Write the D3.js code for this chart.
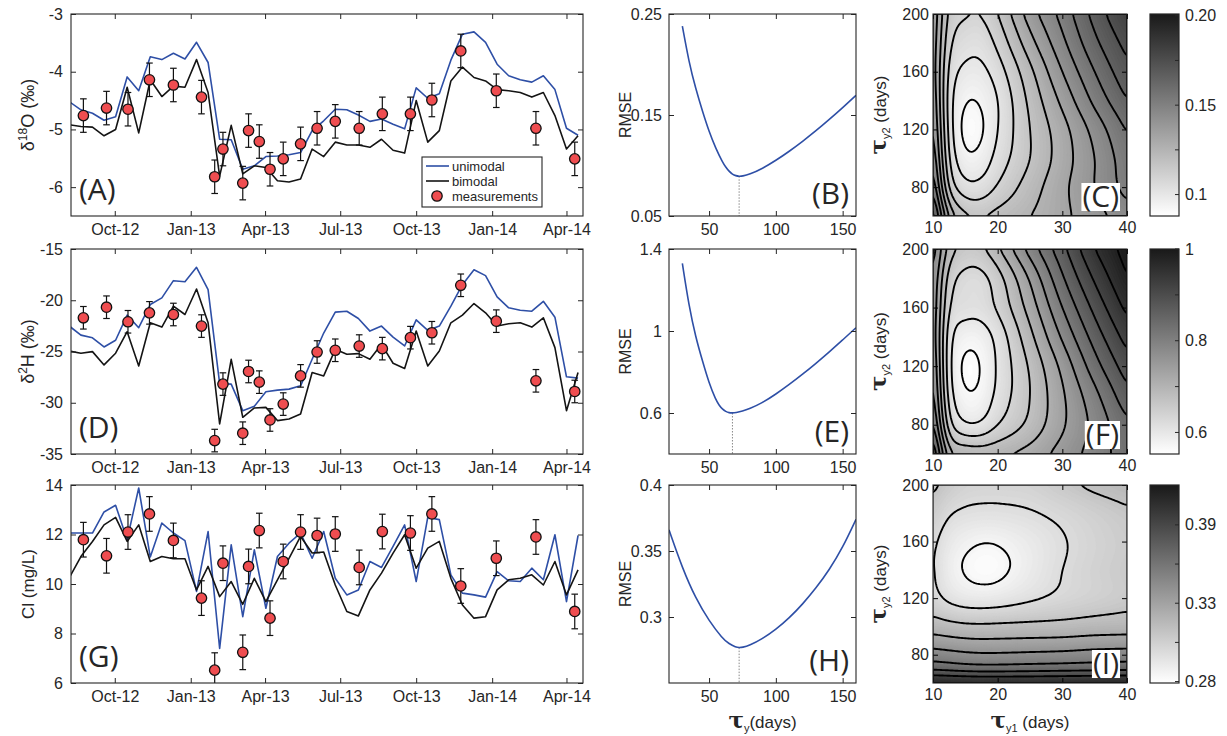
<!DOCTYPE html>
<html><head><meta charset="utf-8">
<script src="https://cdn.jsdelivr.net/npm/d3@7"></script>
<style>
body{margin:0;background:#fff}
svg{display:block}
text{font-family:"Liberation Sans",Arial,sans-serif;fill:#262626}
</style></head>
<body><svg id="c" width="1227" height="736"></svg>
<script>
// ---------------- DATA ----------------
const modelDates = ["2012-08-07","2012-08-21","2012-09-04","2012-09-18","2012-10-02","2012-10-16","2012-10-30","2012-11-13","2012-11-27","2012-12-11","2012-12-25","2013-01-08","2013-01-22","2013-02-05","2013-02-19","2013-03-05","2013-03-19","2013-04-02","2013-04-16","2013-04-30","2013-05-14","2013-05-28","2013-06-11","2013-06-25","2013-07-09","2013-07-23","2013-08-06","2013-08-20","2013-09-03","2013-09-17","2013-10-01","2013-10-15","2013-10-29","2013-11-12","2013-11-26","2013-12-10","2013-12-24","2014-01-07","2014-01-21","2014-02-04","2014-02-18","2014-03-04","2014-03-18","2014-04-01","2014-04-15"];
const o18Unimodal = [-4.52,-4.66,-4.72,-4.84,-4.78,-4.09,-4.33,-3.74,-3.79,-3.68,-3.78,-3.49,-3.84,-5.17,-5.18,-5.69,-5.63,-5.47,-5.46,-5.44,-5.40,-5.02,-4.85,-4.65,-4.66,-4.75,-4.86,-4.82,-4.91,-4.99,-4.28,-4.46,-4.38,-3.80,-3.35,-3.31,-3.49,-3.87,-4.07,-4.14,-4.18,-4.07,-4.31,-4.98,-5.10];
const o18Bimodal = [-4.92,-4.95,-4.96,-5.11,-5.00,-4.27,-5.06,-4.14,-4.43,-4.25,-4.27,-3.79,-4.36,-5.81,-4.93,-5.77,-5.63,-5.66,-5.89,-5.91,-5.86,-5.34,-5.47,-5.22,-5.27,-5.27,-5.31,-5.17,-5.36,-5.41,-4.50,-5.22,-5.02,-4.16,-3.92,-4.10,-4.16,-4.31,-4.33,-4.36,-4.44,-4.36,-4.76,-5.34,-5.11];
const h2Unimodal = [-22.52,-23.4,-23.66,-24.56,-23.9,-21.45,-22.68,-20.42,-19.77,-18.09,-18.2,-16.79,-18.96,-28.12,-28.18,-30.77,-30.35,-28.93,-28.77,-28.67,-28.35,-25.76,-23.2,-21.16,-21.07,-21.78,-23.01,-22.52,-23.59,-24.46,-21.91,-22.94,-22.52,-20.58,-18.48,-17.02,-17.6,-19.67,-20.74,-20.97,-21.07,-20.1,-21.65,-27.47,-27.6];
const h2Bimodal = [-24.95,-25.17,-25.01,-26.31,-25.17,-23.07,-26.41,-22.2,-22.62,-20.58,-21.39,-18.9,-22.2,-32.07,-25.76,-31.42,-30.51,-30.45,-31.74,-31.58,-31.1,-27.05,-27.38,-24.79,-25.27,-25.21,-25.76,-24.3,-26.15,-26.66,-23.01,-26.41,-24.95,-22.2,-21.45,-20.32,-21.22,-22.52,-22.29,-22.2,-22.62,-21.71,-24.62,-30.77,-27.05];
const clUnimodal = [12.06,12.06,12.06,12.91,13.18,11.79,13.88,11.09,12.46,12.06,11.75,9.70,12.12,7.40,11.58,8.68,11.38,9.02,11.11,11.65,12.06,11.04,12.12,10.23,9.56,9.76,10.91,10.67,11.52,12.39,10.10,12.69,12.60,10.37,9.63,9.56,9.47,10.50,10.13,10.10,10.64,10.17,11.99,9.29,11.96];
const clBimodal = [10.26,11.11,11.72,12.39,12.69,11.72,12.39,10.91,11.11,11.02,11.02,9.76,10.71,9.49,10.10,9.18,10.23,9.29,10.17,11.04,11.92,11.25,11.29,9.96,8.89,8.71,9.76,10.44,11.25,11.99,10.64,11.45,11.72,10.23,9.15,8.62,8.68,9.76,10.17,10.23,10.37,9.96,10.91,9.56,10.57];
const measDates = ["2012-08-24","2012-09-21","2012-10-17","2012-11-12","2012-12-11","2013-01-14","2013-01-30","2013-02-09","2013-03-05","2013-03-12","2013-03-25","2013-04-07","2013-04-23","2013-05-14","2013-06-03","2013-06-25","2013-07-24","2013-08-21","2013-09-24","2013-10-20","2013-11-24","2014-01-06","2014-02-23","2014-04-11"];
const o18Meas = [-4.76,-4.63,-4.65,-4.14,-4.23,-4.44,-5.82,-5.34,-5.93,-5.02,-5.21,-5.69,-5.51,-5.25,-4.98,-4.86,-4.98,-4.73,-4.73,-4.49,-3.64,-4.33,-4.98,-5.51];
const h2Meas = [-21.71,-20.68,-22.1,-21.23,-21.39,-22.52,-33.69,-28.18,-32.97,-26.95,-27.99,-31.68,-30.13,-27.38,-25.05,-24.88,-24.47,-24.72,-23.65,-23.17,-18.54,-22.04,-27.86,-28.9];
const clMeas = [11.79,11.14,12.1,12.83,11.76,9.43,6.52,10.84,7.24,10.71,12.16,8.62,10.91,12.1,11.96,12.02,10.67,12.12,12.06,12.83,9.92,11.04,11.9,8.89];
const o18Err = 0.29, h2Err = 1.1, clErr = 0.7;
const timeTicks = ["2012-10-01","2013-01-01","2013-04-01","2013-07-01","2013-10-01","2014-01-01","2014-04-01"];
const o18Ticks = [-6,-5,-4,-3], h2Ticks = [-35,-30,-25,-20,-15], clTicks = [6,8,10,12,14];

const tauB = [30,35,40,45,50,55,60,62.5,65,67.5,70,72.5,75,80,90,100,110,120,130,140,150,160];
const rmseB = [0.238,0.202,0.176,0.154,0.1335,0.117,0.1035,0.0983,0.0942,0.0913,0.0898,0.0893,0.0895,0.0910,0.0970,0.1050,0.1140,0.1238,0.1343,0.1455,0.1572,0.1695];
const tauE = [30,35,40,45,50,55,57.5,60,62.5,65,67.5,70,75,80,90,100,110,120,130,140,150,160];
const rmseE = [1.33,1.12,0.97,0.855,0.745,0.665,0.638,0.619,0.607,0.601,0.600,0.602,0.609,0.620,0.650,0.692,0.739,0.789,0.842,0.898,0.956,1.016];
const tauH = [20,30,40,50,60,65,70,72.5,75,80,90,100,110,120,130,140,150,160];
const rmseH = [0.366,0.337,0.314,0.297,0.2838,0.2796,0.2772,0.2768,0.2770,0.2783,0.2835,0.2905,0.2992,0.3097,0.3218,0.3357,0.3525,0.374];
const bestTau = {B:72.5, E:67.5, H:72.5};
const tauTicks = [50,100,150];
const rmseTicksB = [0.05,0.15,0.25], rmseTicksE = [0.6,1,1.4], rmseTicksH = [0.3,0.35,0.4];

// contour grids: columns = tau_y1, rows = tau_y2 (ascending)
const tau1Grid = [10,12.5,15,17.5,20,25,30,35,40];
const tau2GridCF = [60,80,100,120,140,160,180,200];
const tau2GridI = [60,70,80,100,120,140,160,180,200];
const rmseGridC = [
 [0.172,0.132,0.119,0.117,0.120,0.125,0.131,0.138,0.145],
 [0.158,0.116,0.104,0.104,0.110,0.121,0.131,0.141,0.152],
 [0.150,0.109,0.095,0.096,0.104,0.117,0.129,0.141,0.154],
 [0.145,0.106,0.0905,0.092,0.101,0.117,0.130,0.144,0.158],
 [0.142,0.105,0.0935,0.094,0.101,0.119,0.135,0.151,0.165],
 [0.140,0.107,0.099,0.099,0.105,0.123,0.141,0.157,0.171],
 [0.140,0.111,0.1045,0.104,0.111,0.130,0.147,0.163,0.176],
 [0.141,0.115,0.110,0.1095,0.117,0.137,0.152,0.168,0.182]];
const rmseGridF = [
 [0.89,0.72,0.70,0.695,0.70,0.72,0.755,0.79,0.83],
 [0.83,0.65,0.605,0.607,0.635,0.68,0.735,0.785,0.84],
 [0.80,0.62,0.57,0.575,0.61,0.67,0.735,0.80,0.87],
 [0.785,0.61,0.558,0.567,0.605,0.675,0.75,0.83,0.90],
 [0.775,0.615,0.578,0.582,0.612,0.695,0.78,0.86,0.93],
 [0.775,0.635,0.615,0.615,0.64,0.72,0.81,0.89,0.96],
 [0.78,0.655,0.625,0.625,0.655,0.745,0.84,0.92,0.985],
 [0.80,0.69,0.66,0.665,0.70,0.79,0.87,0.95,1.0]];
const rmseGridI = [
 [0.414,0.413,0.412,0.411,0.411,0.411,0.412,0.413,0.414],
 [0.372,0.370,0.368,0.367,0.367,0.368,0.369,0.370,0.371],
 [0.352,0.350,0.348,0.347,0.347,0.348,0.349,0.351,0.352],
 [0.323,0.320,0.318,0.3175,0.318,0.319,0.320,0.322,0.323],
 [0.305,0.297,0.293,0.292,0.293,0.298,0.303,0.307,0.311],
 [0.302,0.290,0.284,0.281,0.282,0.291,0.300,0.306,0.311],
 [0.303,0.293,0.288,0.2855,0.286,0.292,0.299,0.305,0.310],
 [0.310,0.301,0.298,0.297,0.297,0.299,0.303,0.308,0.313],
 [0.318,0.311,0.306,0.305,0.305,0.306,0.312,0.318,0.322]];
const levelsC = [0.093,0.101,0.109,0.117,0.125,0.133,0.141,0.149,0.157,0.165,0.173,0.181,0.189];
const levelsF = [0.565,0.6,0.635,0.67,0.705,0.74,0.775,0.81,0.845,0.88,0.915,0.95,0.985];
const levelsI = [0.285,0.30,0.315,0.33,0.345,0.36,0.375,0.39];
const cbDomC = [0.088,0.201], cbDomF = [0.553,1.0], cbDomI = [0.279,0.418];
const cbTicksC = [0.1,0.125,0.15,0.175,0.2], cbLabelsC = ["0.1","","0.15","","0.20"];
const cbTicksF = [0.6,0.7,0.8,0.9,1.0], cbLabelsF = ["0.6","","0.8","","1"];
const cbTicksI = [0.28,0.3075,0.335,0.3625,0.39], cbLabelsI = ["0.28","","0.33","","0.39"];
const tau1Ticks = [10,20,30,40], tau2Ticks = [80,120,160,200];

// ---------------- LAYOUT ----------------
const svg = d3.select("#c");
const INK = "#262626", BLUE = "#2e4fa6", RED = "#ef4d50";
const rows = [{top:14,bottom:216},{top:249,bottom:454},{top:485,bottom:683}];
const col1 = {l:71,r:583}, col2 = {l:669,r:856}, col3 = {l:933,r:1127};
const cbx = {l:1150,r:1179};
const parse = d3.timeParse("%Y-%m-%d");
const FS = 16;

function styleAxis(g){
  g.attr("font-size",FS).attr("font-family","Liberation Sans, Arial, sans-serif").attr("color",INK);
  g.select(".domain").remove();
  g.selectAll(".tick line").attr("stroke",INK).attr("stroke-width",1);
}
function frame(g, xs, ys, xTicks, yTicks, xFmt, yFmt, xPad, yPad){
  const [x0,x1] = xs.range(), [y1,y0] = ys.range();
  g.append("g").attr("transform",`translate(0,${y1})`)
    .call(d3.axisBottom(xs).tickValues(xTicks).tickSize(-5).tickPadding(xPad).tickFormat(xFmt)).call(styleAxis);
  g.append("g").attr("transform",`translate(0,${y0})`)
    .call(d3.axisTop(xs).tickValues(xTicks).tickSize(-5).tickFormat(()=>"")).call(styleAxis);
  g.append("g").attr("transform",`translate(${x0},0)`)
    .call(d3.axisLeft(ys).tickValues(yTicks).tickSize(-5).tickPadding(yPad).tickFormat(yFmt)).call(styleAxis);
  g.append("g").attr("transform",`translate(${x1},0)`)
    .call(d3.axisRight(ys).tickValues(yTicks).tickSize(-5).tickFormat(()=>"")).call(styleAxis);
  g.append("rect").attr("x",x0).attr("y",y0).attr("width",x1-x0).attr("height",y1-y0)
    .attr("fill","none").attr("stroke",INK).attr("stroke-width",1.1);
}
let clipId = 0;
function clip(g, x0,y0,x1,y1){
  const id = "clip"+(clipId++);
  svg.append("defs").append("clipPath").attr("id",id).append("rect")
    .attr("x",x0).attr("y",y0).attr("width",x1-x0).attr("height",y1-y0);
  return g.append("g").attr("clip-path",`url(#${id})`);
}

// ---------------- TIME SERIES PANELS ----------------
const xTime = d3.scaleTime().domain([parse("2012-08-09"), parse("2014-04-21")]).range([col1.l,col1.r]);
const fmtTime = d3.timeFormat("%b-%y");
const mDates = modelDates.map(parse), sDates = measDates.map(parse), tTicks = timeTicks.map(parse);

function timePanel(row, dom, ticks, uni, bi, meas, err, label){
  const g = svg.append("g");
  const ys = d3.scaleLinear().domain(dom).range([row.bottom,row.top]);
  const pg = clip(g, col1.l, row.top, col1.r, row.bottom);
  const line = d3.line().x((d,i)=>xTime(mDates[i])).y(d=>ys(d));
  pg.append("path").datum(uni).attr("d",line).attr("fill","none").attr("stroke",BLUE).attr("stroke-width",1.6).attr("stroke-linejoin","round");
  pg.append("path").datum(bi).attr("d",line).attr("fill","none").attr("stroke","#141414").attr("stroke-width",1.6).attr("stroke-linejoin","round");
  const mg = pg.append("g");
  meas.forEach((v,i)=>{
    const x = xTime(sDates[i]), yt = ys(v+err), yb = ys(v-err);
    mg.append("line").attr("x1",x).attr("x2",x).attr("y1",yt).attr("y2",yb).attr("stroke","#111").attr("stroke-width",1.2);
    mg.append("line").attr("x1",x-3.3).attr("x2",x+3.3).attr("y1",yt).attr("y2",yt).attr("stroke","#111").attr("stroke-width",1.2);
    mg.append("line").attr("x1",x-3.3).attr("x2",x+3.3).attr("y1",yb).attr("y2",yb).attr("stroke","#111").attr("stroke-width",1.2);
  });
  meas.forEach((v,i)=>{
    mg.append("circle").attr("cx",xTime(sDates[i])).attr("cy",ys(v)).attr("r",5.2)
      .attr("fill",RED).attr("stroke","#111").attr("stroke-width",1.3);
  });
  frame(g, xTime, ys, tTicks, ticks, fmtTime, d3.format(""), 8, 8);
  g.append("text").attr("x",col1.l+8).attr("y",row.bottom-16).attr("font-size",30)
    .style("font-family","Open Sans, sans-serif").text(label);
}
timePanel(rows[0],[-6.5,-3],o18Ticks,o18Unimodal,o18Bimodal,o18Meas,o18Err,"(A)");
timePanel(rows[1],[-35,-15],h2Ticks,h2Unimodal,h2Bimodal,h2Meas,h2Err,"(D)");
timePanel(rows[2],[6,14],clTicks,clUnimodal,clBimodal,clMeas,clErr,"(G)");
svg.selectAll("text").each(function(){ const t=this.textContent; if(t.includes("−")) this.textContent=t.replace(/−/g,"-"); });

function ylab(x, y, build){
  const t = svg.append("text").attr("transform",`translate(${x},${y}) rotate(-90)`).attr("text-anchor","middle").attr("font-size",18);
  build(t);
}
ylab(34,(rows[0].top+rows[0].bottom)/2,t=>{t.append("tspan").text("δ");t.append("tspan").attr("font-size",12).attr("dy",-7).text("18");t.append("tspan").attr("dy",7).text("O (‰)");});
ylab(34,(rows[1].top+rows[1].bottom)/2,t=>{t.append("tspan").text("δ");t.append("tspan").attr("font-size",12).attr("dy",-7).text("2");t.append("tspan").attr("dy",7).text("H (‰)");});
ylab(34,(rows[2].top+rows[2].bottom)/2,t=>{t.attr("font-size",17).text("Cl (mg/L)");});

// legend
{
  const lg = svg.append("g");
  lg.append("rect").attr("x",422).attr("y",157).attr("width",120).attr("height",50).attr("fill","#fff").attr("stroke",INK).attr("stroke-width",1.1);
  const items = [{n:"unimodal",c:BLUE,y:166},{n:"bimodal",c:"#141414",y:181},{n:"measurements",y:196}];
  items.forEach(it=>{
    if(it.c) lg.append("line").attr("x1",426).attr("x2",449).attr("y1",it.y).attr("y2",it.y).attr("stroke",it.c).attr("stroke-width",1.6);
    else lg.append("circle").attr("cx",437).attr("cy",it.y).attr("r",5.2).attr("fill",RED).attr("stroke","#111").attr("stroke-width",1.3);
    lg.append("text").attr("x",452).attr("y",it.y+4.5).attr("font-size",13).text(it.n);
  });
}

// ---------------- RMSE PANELS ----------------
const xTau = d3.scaleLinear().domain([20,160]).range([col2.l,col2.r]);
function rmsePanel(row, dom, ticks, taus, vals, best, label, yFmt){
  const g = svg.append("g");
  const ys = d3.scaleLinear().domain(dom).range([row.bottom,row.top]);
  const pg = clip(g, col2.l,row.top,col2.r,row.bottom);
  const curve = d3.line().x((d,i)=>xTau(taus[i])).y(d=>ys(d)).curve(d3.curveBasis);
  const vb = vals[taus.indexOf(best)];
  pg.append("line").attr("x1",xTau(best)).attr("x2",xTau(best)).attr("y1",ys(vb)).attr("y2",row.bottom)
    .attr("stroke","#8a8a8a").attr("stroke-width",1).attr("stroke-dasharray","1.5,1.5");
  pg.append("path").datum(vals).attr("d",curve).attr("fill","none").attr("stroke",BLUE).attr("stroke-width",1.6);
  frame(g, xTau, ys, tauTicks, ticks, d3.format(""), yFmt, 8, 7);
  g.append("text").attr("x",col2.r-7).attr("y",row.bottom-12).attr("text-anchor","end").attr("font-size",30)
    .style("font-family","Open Sans, sans-serif").text(label);
  svg.append("text").attr("transform",`translate(631,${(row.top+row.bottom)/2}) rotate(-90)`).attr("text-anchor","middle").attr("font-size",16).text("RMSE");
}
rmsePanel(rows[0],[0.05,0.25],rmseTicksB,tauB,rmseB,bestTau.B,"(B)",d3.format(".2f"));
rmsePanel(rows[1],[0.4,1.4],rmseTicksE,tauE,rmseE,bestTau.E,"(E)",d=>d===0.6?"0.6":d3.format("")(d));
rmsePanel(rows[2],[0.25,0.4],rmseTicksH,tauH,rmseH,bestTau.H,"(H)",d=>d===0.3?"0.3":d===0.4?"0.4":"0.35");
{
  const t = svg.append("text").attr("x",(col2.l+col2.r)/2).attr("y",728).attr("text-anchor","middle");
  t.append("tspan").attr("font-size",23).attr("font-weight","bold").style("font-family","DejaVu Serif, serif").text("τ");
  t.append("tspan").attr("font-size",11).attr("dy",4).text("y");
  t.append("tspan").attr("font-size",17).attr("dy",-4).text("(days)");
}

// ---------------- CONTOUR PANELS ----------------
function herm(xs, ys, x){
  const n = xs.length;
  let k = 0; while(k < n-2 && x > xs[k+1]) k++;
  const slope = j => j===0 ? (ys[1]-ys[0])/(xs[1]-xs[0]) : j===n-1 ? (ys[n-1]-ys[n-2])/(xs[n-1]-xs[n-2]) : (ys[j+1]-ys[j-1])/(xs[j+1]-xs[j-1]);
  const h = xs[k+1]-xs[k], t = (x-xs[k])/h, t2=t*t, t3=t2*t;
  return (2*t3-3*t2+1)*ys[k] + (t3-2*t2+t)*h*slope(k) + (-2*t3+3*t2)*ys[k+1] + (t3-t2)*h*slope(k+1);
}
const NX = 121, NY = 141, DX = 30/(NX-1), DY = 140/(NY-1);
function boxBlur(a, rx, ry){
  const out = new Float64Array(a.length), tmp = new Float64Array(a.length);
  for(let j=0;j<NY;j++) for(let i=0;i<NX;i++){
    let s=0,n=0; for(let d=-rx;d<=rx;d++){ const ii=Math.max(0,Math.min(NX-1,i+d)); s+=a[j*NX+ii]; n++; }
    tmp[j*NX+i]=s/n;
  }
  for(let j=0;j<NY;j++) for(let i=0;i<NX;i++){
    let s=0,n=0; for(let d=-ry;d<=ry;d++){ const jj=Math.max(0,Math.min(NY-1,j+d)); s+=tmp[jj*NX+i]; n++; }
    out[j*NX+i]=s/n;
  }
  return out;
}
function fineField(t2s, grid){
  const fx = d3.range(NX).map(i=>10+i*DX), fy = d3.range(NY).map(j=>200-j*DY);
  const tmp = grid.map(r=>fx.map(x=>herm(tau1Grid,r,x)));
  let out = new Float64Array(NX*NY);
  for(let i=0;i<NX;i++){ const col = tmp.map(r=>r[i]); for(let j=0;j<NY;j++) out[j*NX+i] = herm(t2s,col,fy[j]); }
  out = boxBlur(out,3,3); out = boxBlur(out,2,3);
  return out;
}
const grayOf = (dom) => v => { const t = Math.max(0,Math.min(1,(v-dom[0])/(dom[1]-dom[0]))); const c = Math.round(255 - t*230); return `rgb(${c},${c},${c})`; };

function contourPanel(row, t2s, grid, levels, cbDom, cbTicks, cbLabels, label){
  const g = svg.append("g");
  const xs = d3.scaleLinear().domain([10,40]).range([col3.l,col3.r]);
  const ys = d3.scaleLinear().domain([60,200]).range([row.bottom,row.top]);
  const vals = fineField(t2s, grid);
  const gray = grayOf(cbDom);
  const proj = d3.geoTransform({point(px,py){ this.stream.point(xs(10+(px-0.5)*DX), ys(200-(py-0.5)*DY)); }});
  const path = d3.geoPath(proj);
  const pg = clip(g, col3.l,row.top,col3.r,row.bottom);
  const nb = 90, step = (cbDom[1]-cbDom[0])/nb;
  const fillTh = [d3.min(vals)-1].concat(d3.range(1,nb).map(k=>cbDom[0]+k*step));
  const bands = d3.contours().size([NX,NY]).thresholds(fillTh)(vals);
  bands.forEach((b,k)=>{
    const c = gray(cbDom[0]+(k+0.5)*step);
    pg.append("path").attr("d",path(b)).attr("fill",c).attr("stroke",c).attr("stroke-width",0.6);
  });
  const lines = d3.contours().size([NX,NY]).thresholds(levels)(vals);
  lines.forEach(b=>{
    pg.append("path").attr("d",path(b)).attr("fill","none").attr("stroke","#000").attr("stroke-width",1.9).attr("stroke-linejoin","round");
  });
  frame(g, xs, ys, tau1Ticks, tau2Ticks, d3.format(""), d3.format(""), 6, 4);
  g.selectAll(".tick line").attr("stroke","#000");
  const lt = g.append("text").attr("x",col3.r-8).attr("y",row.bottom-9).attr("text-anchor","end").attr("font-size",30)
    .style("font-family","Open Sans, sans-serif").text(label);
  const bb = lt.node().getBBox();
  g.insert("rect", () => lt.node()).attr("x",bb.x-1).attr("y",row.bottom-33).attr("width",bb.width+2).attr("height",28).attr("fill","#fff");
  const yl = svg.append("text").attr("transform",`translate(886,${(row.top+row.bottom)/2}) rotate(-90)`).attr("text-anchor","middle");
  yl.append("tspan").attr("font-size",23).attr("font-weight","bold").style("font-family","DejaVu Serif, serif").text("τ");
  yl.append("tspan").attr("font-size",11).attr("dy",4).text("y2");
  yl.append("tspan").attr("font-size",17).attr("dy",-4).text(" (days)");
  const cs = d3.scaleLinear().domain(cbDom).range([row.bottom,row.top]);
  const gid = "grad"+label.replace(/[()]/g,"");
  const grad = svg.append("defs").append("linearGradient").attr("id",gid).attr("x1",0).attr("x2",0).attr("y1",1).attr("y2",0);
  grad.append("stop").attr("offset",0).attr("stop-color",gray(cbDom[0]));
  grad.append("stop").attr("offset",1).attr("stop-color",gray(cbDom[1]));
  g.append("rect").attr("x",cbx.l).attr("y",row.top).attr("width",cbx.r-cbx.l).attr("height",row.bottom-row.top)
    .attr("fill",`url(#${gid})`).attr("stroke",INK).attr("stroke-width",1.2);
  cbTicks.forEach((v,i)=>{
    g.append("line").attr("x1",cbx.r-4).attr("x2",cbx.r).attr("y1",cs(v)).attr("y2",cs(v)).attr("stroke",INK).attr("stroke-width",1);
    if(cbLabels[i]) g.append("text").attr("x",cbx.r+6).attr("y",cs(v)+5.5).attr("font-size",FS).text(cbLabels[i]);
  });
}
contourPanel(rows[0],tau2GridCF,rmseGridC,levelsC,cbDomC,cbTicksC,cbLabelsC,"(C)");
contourPanel(rows[1],tau2GridCF,rmseGridF,levelsF,cbDomF,cbTicksF,cbLabelsF,"(F)");
contourPanel(rows[2],tau2GridI,rmseGridI,levelsI,cbDomI,cbTicksI,cbLabelsI,"(I)");
{
  const t = svg.append("text").attr("x",(col3.l+col3.r)/2).attr("y",728).attr("text-anchor","middle");
  t.append("tspan").attr("font-size",23).attr("font-weight","bold").style("font-family","DejaVu Serif, serif").text("τ");
  t.append("tspan").attr("font-size",11).attr("dy",4).text("y1");
  t.append("tspan").attr("font-size",17).attr("dy",-4).text(" (days)");
}
</script></body></html>
